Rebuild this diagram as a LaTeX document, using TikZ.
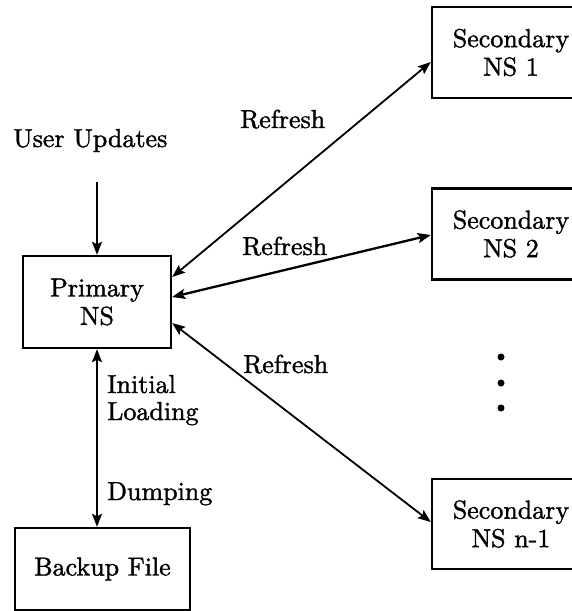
\documentclass[tikz,border=0pt]{standalone}
\usepackage{fontspec}
\setmainfont{lmroman10-regular.otf}[
  BoldFont=lmroman10-regular.otf,
  BoldFeatures={FakeBold=1.4}]
\usetikzlibrary{arrows.meta,calc}
\begin{document}
\begin{tikzpicture}[x=1pt,y=-1pt,
  every node/.style={font=\fontsize{26}{28.5}\selectfont\bfseries},
  nsbox/.style={draw,line width=2.4pt,inner sep=0pt,align=center,
    minimum width=158pt,minimum height=91pt},
  link/.style={line width=1.8pt,
    arrows={Stealth[length=13pt,width=10pt,inset=2.5pt]-Stealth[length=13pt,width=10pt,inset=2.5pt]}},
  feed/.style={line width=1.8pt,-{Stealth[length=13pt,width=10pt,inset=2.5pt]}},
  lbl/.style={anchor=base west,inner sep=0pt},
  dot/.style={circle,fill,inner sep=0pt,minimum size=7pt}]
\useasboundingbox (0,0) rectangle (572,611);
\clip (0,0) rectangle (572,611);

% name servers
\node[nsbox,minimum width=148pt,minimum height=92pt] (prim) at (97,302) {Primary\\NS};
\node[nsbox] (s1) at (511,52.5) {Secondary\\NS 1};
\node[nsbox] (s2) at (511,234) {Secondary\\NS 2};
\node[nsbox,minimum height=90pt] (sn) at (511,524) {Secondary\\NS n-1};
\node[nsbox,minimum width=175pt,minimum height=82pt] (bak) at (102.5,569) {Backup File};

% updates entering the primary
\node[lbl] (uu) at (13,147) {User Updates};
\draw[feed] ($(prim.north)+(0,-73)$) -- (prim.north);

% zone refresh links
\draw[link] ($(prim.east)+(0,-25)$) -- ($(s1.west)+(0,9.5)$);
\draw[link,line width=2.3pt] ($(prim.east)+(0,-5)$) -- ($(s2.west)+(0,1)$);
\draw[link] ($(prim.east)+(0,21)$) -- ($(sn.west)+(0,-2)$);
\node[lbl] (r1) at (240,128) {Refresh};
\node[lbl] (r2) at (242,255) {Refresh};
\node[lbl] (r3) at (243,373) {Refresh};

% backup file link
\draw[link] (prim.south) -- (prim.south |- bak.north);
\node[lbl] (il1) at (107,393) {Initial};
\node[lbl] (il2) at (107,420) {Loading};
\node[lbl] (dmp) at (107,500) {Dumping};

% further secondaries
\node[dot] (d1) at (501,357) {};
\node[dot] (d2) at (501,383) {};
\node[dot] (d3) at (501,408) {};
\end{tikzpicture}
\end{document}
